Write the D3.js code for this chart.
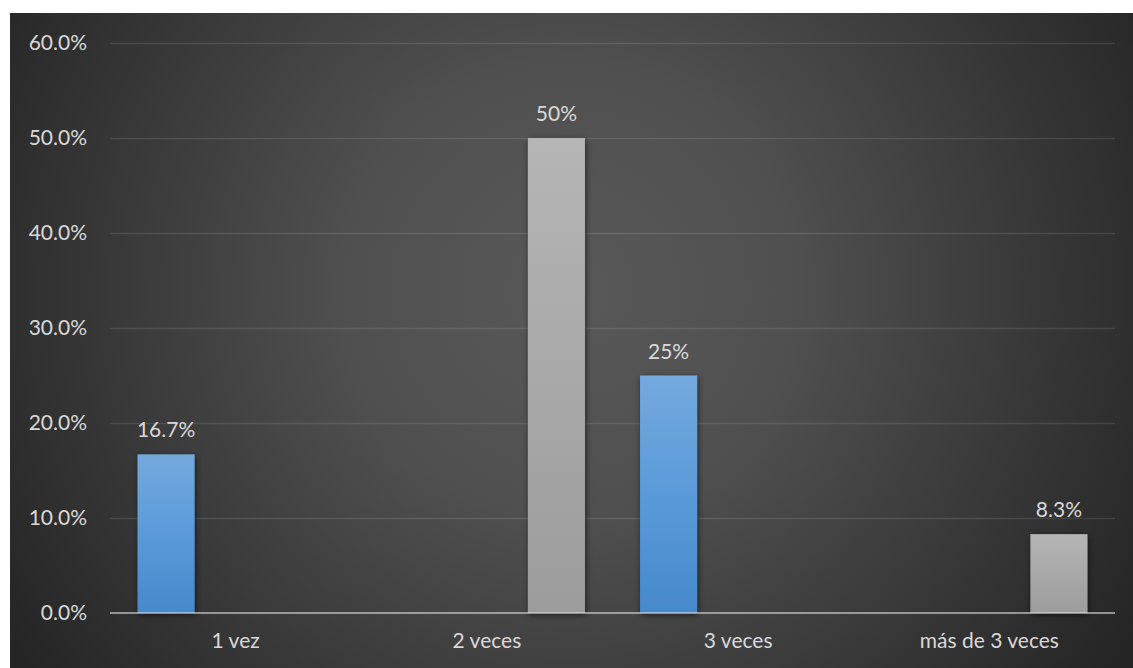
<!DOCTYPE html>
<html>
<head>
<meta charset="utf-8">
<script src="https://cdn.jsdelivr.net/npm/d3@7"></script>
<style>
  html, body { margin: 0; padding: 0; background: #ffffff; }
  svg { display: block; }
  text { font-family: Lato, "Open Sans", sans-serif; }
</style>
</head>
<body>
<svg id="chart" width="1133" height="668"></svg>
<script>
// Categories and the two visible series (a blank middle slot sits between them)
const categories = ["1 vez", "2 veces", "3 veces", "más de 3 veces"];
const seriesNames = ["Serie1", "Serie2", "Serie3"];
const serie1 = [0.167, null, 0.25, null];
const serie2 = [null, null, null, null];
const serie3 = [null, 0.5, null, 0.083];
const yTicks = [0, 0.1, 0.2, 0.3, 0.4, 0.5, 0.6];

const seriesValues = [serie1, serie2, serie3];
const seriesColors = ["blueGrad", null, "greyGrad"];

const W = 1133, H = 668;
const frame = { x: 10, y: 13 };
const plot = { left: 110, right: 1115, top: 43, bottom: 613 };

const svg = d3.select("#chart");
const defs = svg.append("defs");

// Dark radial background
const bg = defs.append("radialGradient")
  .attr("id", "bgGrad")
  .attr("gradientUnits", "userSpaceOnUse")
  .attr("cx", 570).attr("cy", 290).attr("r", 660);
bg.append("stop").attr("offset", "0").attr("stop-color", "#595959");
bg.append("stop").attr("offset", "0.35").attr("stop-color", "#4f4f4f");
bg.append("stop").attr("offset", "1").attr("stop-color", "#252525");

const blue = defs.append("linearGradient").attr("id", "blueGrad")
  .attr("x1", 0).attr("y1", 0).attr("x2", 0).attr("y2", 1);
blue.append("stop").attr("offset", "0").attr("stop-color", "#74a9dd");
blue.append("stop").attr("offset", "0.5").attr("stop-color", "#5a9ad8");
blue.append("stop").attr("offset", "1").attr("stop-color", "#4689cc");

const grey = defs.append("linearGradient").attr("id", "greyGrad")
  .attr("x1", 0).attr("y1", 0).attr("x2", 0).attr("y2", 1);
grey.append("stop").attr("offset", "0").attr("stop-color", "#b5b5b5");
grey.append("stop").attr("offset", "1").attr("stop-color", "#9c9c9c");

const shadow = defs.append("filter").attr("id", "barShadow")
  .attr("x", "-30%").attr("y", "-10%").attr("width", "160%").attr("height", "130%");
shadow.append("feDropShadow")
  .attr("dx", 1).attr("dy", 2).attr("stdDeviation", 3)
  .attr("flood-color", "#000").attr("flood-opacity", 0.55);

svg.append("rect")
  .attr("x", frame.x).attr("y", frame.y)
  .attr("width", W - frame.x).attr("height", H - frame.y)
  .attr("fill", "url(#bgGrad)");

// Scales
const y = d3.scaleLinear().domain([0, 0.6]).range([plot.bottom, plot.top]);
const x0 = d3.scaleBand().domain(categories).range([plot.left, plot.right]).padding(0);
const x1 = d3.scaleBand().domain(seriesNames).range([0, x0.bandwidth()])
  .paddingInner(0.18).paddingOuter(0.396);

// Gridlines
const yAxis = d3.axisLeft(y).tickValues(yTicks).tickFormat(d3.format(".1%"))
  .tickSize(-(plot.right - plot.left)).tickPadding(23);
const gy = svg.append("g")
  .attr("transform", `translate(${plot.left},0)`)
  .call(yAxis);
gy.select(".domain").remove();
gy.selectAll(".tick line")
  .attr("stroke", "#ffffff").attr("stroke-opacity", 0.1).attr("stroke-width", 1.5)
  .filter(d => d === 0).remove();
gy.selectAll(".tick text")
  .attr("fill", "#d9d9d9").attr("font-size", 21);

// Bars
const pct = v => {
  const s = (v * 100).toFixed(1);
  return (s.endsWith(".0") ? s.slice(0, -2) : s) + "%";
};

const barData = [];
seriesValues.forEach((vals, si) => {
  vals.forEach((v, ci) => {
    if (v != null) barData.push({ cat: categories[ci], series: seriesNames[si], v, fill: seriesColors[si] });
  });
});

svg.append("g").selectAll("rect")
  .data(barData)
  .join("rect")
  .attr("x", d => x0(d.cat) + x1(d.series))
  .attr("y", d => y(d.v))
  .attr("width", x1.bandwidth())
  .attr("height", d => y(0) - y(d.v))
  .attr("fill", d => `url(#${d.fill})`)
  .attr("filter", "url(#barShadow)");

// Baseline drawn over the bars
svg.append("line")
  .attr("x1", plot.left).attr("x2", plot.right)
  .attr("y1", y(0)).attr("y2", y(0))
  .attr("stroke", "#d9d9d9").attr("stroke-opacity", 0.6).attr("stroke-width", 2);

// Data labels
svg.append("g").selectAll("text")
  .data(barData)
  .join("text")
  .attr("x", d => x0(d.cat) + x1(d.series) + x1.bandwidth() / 2)
  .attr("y", d => y(d.v) - 17)
  .attr("text-anchor", "middle")
  .attr("fill", "#d9d9d9").attr("font-size", 21)
  .text(d => pct(d.v));

// Category labels
const xAxis = d3.axisBottom(x0).tickSize(0).tickPadding(20);
const gx = svg.append("g")
  .attr("transform", `translate(0,${plot.bottom})`)
  .call(xAxis);
gx.select(".domain").remove();
gx.selectAll(".tick text").attr("fill", "#d9d9d9").attr("font-size", 21);
</script>
</body>
</html>
